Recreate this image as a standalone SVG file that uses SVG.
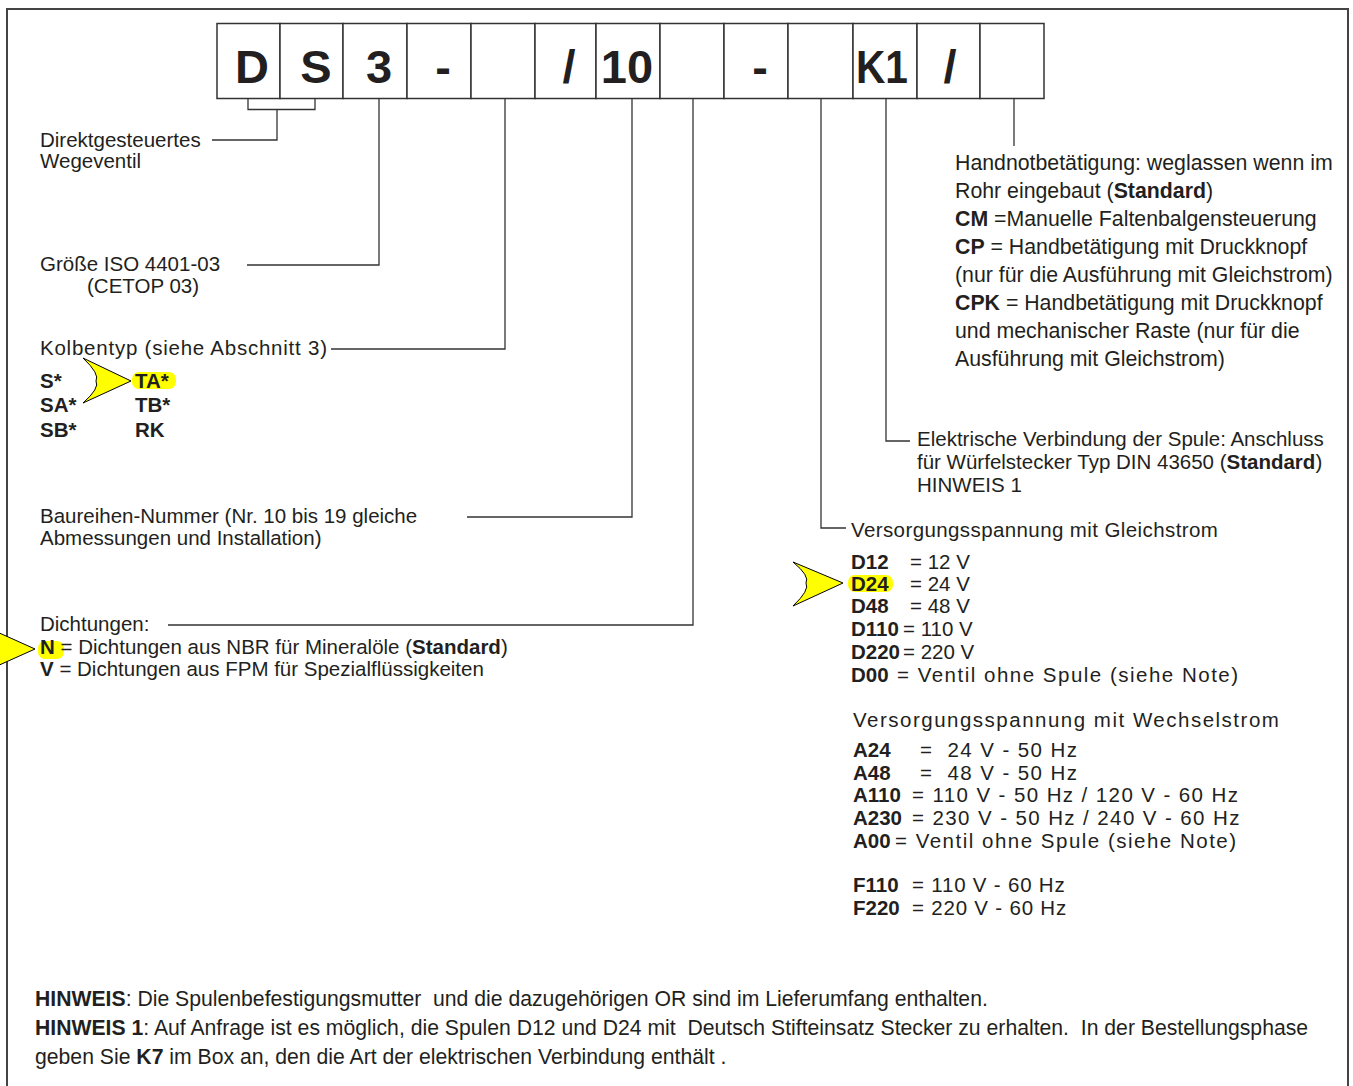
<svg xmlns="http://www.w3.org/2000/svg" width="1353" height="1086" viewBox="0 0 1353 1086">
<style>
text{font-family:"Liberation Sans",Arial,sans-serif;fill:#231f20}
.t{font-size:20.5px}
.h{font-size:21.3px}
.b{font-weight:bold}
.big{font-size:47px;font-weight:bold;text-anchor:middle}
.sp{letter-spacing:1.5px}
.sa{letter-spacing:1.4px}
.sf{letter-spacing:0.8px}
.n{font-size:21.2px}
.box{fill:#fff;stroke:#333;stroke-width:1.5}
.ln{fill:none;stroke:#333;stroke-width:1.3}
.arr{fill:#ffff00;stroke:#000;stroke-width:1}
.hl{fill:#ffff00}
</style>
<rect x="7" y="9" width="1341" height="1095" fill="#fff" stroke="#444" stroke-width="2"/>

<g id="code">
<rect class="box" x="217" y="23.5" width="63" height="75"/>
<rect class="box" x="280" y="23.5" width="63" height="75"/>
<rect class="box" x="343" y="23.5" width="64" height="75"/>
<rect class="box" x="407" y="23.5" width="64" height="75"/>
<rect class="box" x="471" y="23.5" width="64" height="75"/>
<rect class="box" x="535" y="23.5" width="61" height="75"/>
<rect class="box" x="596" y="23.5" width="64" height="75"/>
<rect class="box" x="660" y="23.5" width="64" height="75"/>
<rect class="box" x="724" y="23.5" width="64" height="75"/>
<rect class="box" x="788" y="23.5" width="65" height="75"/>
<rect class="box" x="853" y="23.5" width="64" height="75"/>
<rect class="box" x="917" y="23.5" width="63" height="75"/>
<rect class="box" x="980" y="23.5" width="64" height="75"/>
<text class="big" x="252" y="83">D</text>
<text class="big" x="316" y="83">S</text>
<text class="big" x="379" y="83">3</text>
<text class="big" x="443" y="83">-</text>
<text class="big" x="569" y="83">/</text>
<text class="big" x="627" y="83">10</text>
<text class="big" x="760" y="83">-</text>
<text class="big" x="882" y="83" textLength="52" lengthAdjust="spacingAndGlyphs">K1</text>
<text class="big" x="950" y="83">/</text>
</g>

<g id="connectors">
<path class="ln" d="M248 98.5V109.5H315V98.5M277 109.5V140H212"/>
<path class="ln" d="M379 98.5V265H247"/>
<path class="ln" d="M505 98.5V349H331"/>
<path class="ln" d="M632 98.5V517H467"/>
<path class="ln" d="M693 98.5V625H168"/>
<path class="ln" d="M821 98.5V528H846"/>
<path class="ln" d="M886 98.5V441H910"/>
<path class="ln" d="M1014 98.5V146"/>
</g>

<g id="direkt">
<text class="t" x="40" y="147">Direktgesteuertes</text>
<text class="t" x="40" y="168">Wegeventil</text>
</g>

<g id="groesse">
<text class="t" x="40" y="271">Größe ISO 4401-03</text>
<text class="t" x="87" y="293">(CETOP 03)</text>
</g>

<g id="kolben">
<text class="t" x="40" y="355" textLength="287">Kolbentyp (siehe Abschnitt 3)</text>
<rect class="hl" x="132" y="372" width="44" height="17" rx="7"/>
<text class="t b" x="40" y="388">S*</text>
<text class="t b" x="135" y="388">TA*</text>
<text class="t b" x="40" y="412">SA*</text>
<text class="t b" x="135" y="412">TB*</text>
<text class="t b" x="40" y="437">SB*</text>
<text class="t b" x="135" y="437">RK</text>
<path class="arr" d="M83 358L131 381L83 403Q100 388 96 381Q100 374 83 358Z"/>
</g>

<g id="baureihe">
<text class="t" x="40" y="523">Baureihen-Nummer (Nr. 10 bis 19 gleiche</text>
<text class="t" x="40" y="545">Abmessungen und Installation)</text>
</g>

<g id="dichtungen">
<text class="t" x="40" y="631">Dichtungen:</text>
<rect class="hl" x="38" y="641" width="26" height="18" rx="7"/>
<text class="t" x="40" y="654"><tspan class="b">N</tspan> = Dichtungen aus NBR für Mineralöle (<tspan class="b">Standard</tspan>)</text>
<text class="t" x="40" y="676"><tspan class="b">V</tspan> = Dichtungen aus FPM für Spezialflüssigkeiten</text>
<path class="arr" d="M-14 627L35 649L-14 671Q2 656 -1 649Q2 642 -14 627Z"/>
</g>

<g id="handnot">
<text class="h" x="955" y="170">Handnotbetätigung: weglassen wenn im</text>
<text class="h" x="955" y="198">Rohr eingebaut (<tspan class="b">Standard</tspan>)</text>
<text class="h" x="955" y="226"><tspan class="b">CM</tspan> =Manuelle Faltenbalgensteuerung</text>
<text class="h" x="955" y="254"><tspan class="b">CP</tspan> = Handbetätigung mit Druckknopf</text>
<text class="h" x="955" y="282">(nur für die Ausführung mit Gleichstrom)</text>
<text class="h" x="955" y="310"><tspan class="b">CPK</tspan> = Handbetätigung mit Druckknopf</text>
<text class="h" x="955" y="338">und mechanischer Raste (nur für die</text>
<text class="h" x="955" y="366">Ausführung mit Gleichstrom)</text>
</g>

<g id="elektrisch">
<text class="t" x="917" y="446">Elektrische Verbindung der Spule: Anschluss</text>
<text class="t" x="917" y="469">für Würfelstecker Typ DIN 43650 (<tspan class="b">Standard</tspan>)</text>
<text class="t" x="917" y="492">HINWEIS 1</text>
</g>

<g id="spannung">
<text class="t" x="851" y="537" style="letter-spacing:0.4px">Versorgungsspannung mit Gleichstrom</text>
<rect class="hl" x="848" y="575" width="45" height="17" rx="7"/>
<text class="t b" x="851" y="569">D12</text><text class="t" x="910" y="569">= 12 V</text>
<text class="t b" x="851" y="591">D24</text><text class="t" x="910" y="591">= 24 V</text>
<text class="t b" x="851" y="613">D48</text><text class="t" x="910" y="613">= 48 V</text>
<text class="t b" x="851" y="636">D110</text><text class="t" x="903" y="636">= 110 V</text>
<text class="t b" x="851" y="659">D220</text><text class="t" x="903" y="659">= 220 V</text>
<text class="t b" x="851" y="682">D00</text><text class="t sp" x="897" y="682">= Ventil ohne Spule (siehe Note)</text>
<path class="arr" d="M793 562L843 583L793 606Q810 590 806 583Q810 576 793 562Z"/>

<text class="t sp" x="853" y="727">Versorgungsspannung mit Wechselstrom</text>
<text class="t b" x="853" y="757">A24</text><text class="t sa" x="920" y="757" xml:space="preserve">=  24 V - 50 Hz</text>
<text class="t b" x="853" y="780">A48</text><text class="t sa" x="920" y="780" xml:space="preserve">=  48 V - 50 Hz</text>
<text class="t b" x="853" y="802">A110</text><text class="t sa" x="912" y="802">= 110 V - 50 Hz / 120 V - 60 Hz</text>
<text class="t b" x="853" y="825">A230</text><text class="t sa" x="912" y="825">= 230 V - 50 Hz / 240 V - 60 Hz</text>
<text class="t b" x="853" y="848">A00</text><text class="t sp" x="895" y="848">= Ventil ohne Spule (siehe Note)</text>
<text class="t b" x="853" y="892">F110</text><text class="t sf" x="912" y="892">= 110 V - 60 Hz</text>
<text class="t b" x="853" y="915">F220</text><text class="t sf" x="912" y="915">= 220 V - 60 Hz</text>
</g>

<g id="notes">
<text class="n" x="35" y="1006" xml:space="preserve"><tspan class="b">HINWEIS</tspan>: Die Spulenbefestigungsmutter  und die dazugehörigen OR sind im Lieferumfang enthalten.</text>
<text class="n" x="35" y="1035" xml:space="preserve"><tspan class="b">HINWEIS 1</tspan>: Auf Anfrage ist es möglich, die Spulen D12 und D24 mit  Deutsch Stifteinsatz Stecker zu erhalten.  In der Bestellungsphase</text>
<text class="n" x="35" y="1064" xml:space="preserve">geben Sie <tspan class="b">K7</tspan> im Box an, den die Art der elektrischen Verbindung enthält .</text>
</g>
</svg>
